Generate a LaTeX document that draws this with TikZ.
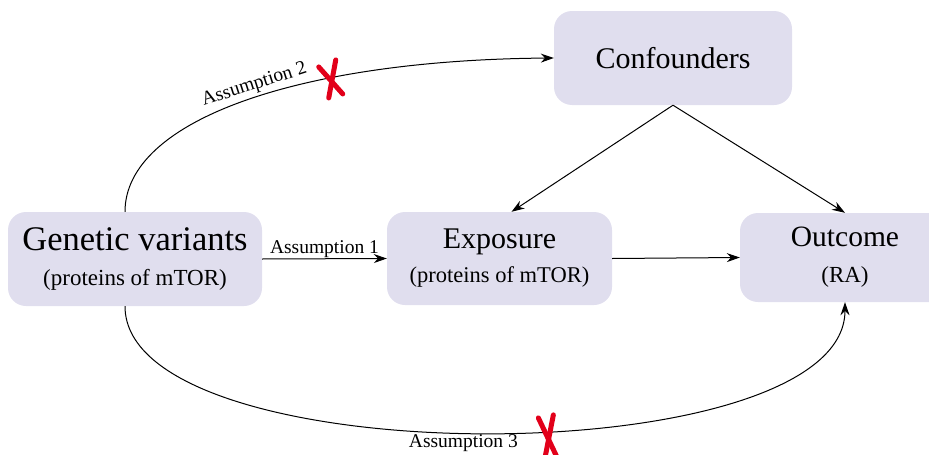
\documentclass[tikz,border=0pt]{standalone}
\usepackage{fontspec}
\setmainfont{Liberation Serif}
\usetikzlibrary{arrows.meta}
\definecolor{boxfill}{RGB}{224,222,238}
\definecolor{crossred}{RGB}{226,0,26}
\tikzset{
  factor/.style={fill=boxfill, rounded corners=18pt, align=center, inner sep=0pt},
  link/.style={-{Stealth[length=13pt,width=9pt]}, line width=1pt},
  cross/.style={crossred, line width=5pt, line cap=round},
  label/.style={font=\fontsize{19.5}{21}\selectfont, inner sep=1pt},
}

\begin{document}
\begin{tikzpicture}[x=1pt,y=-1pt]
    \useasboundingbox (0,0) rectangle (929,455);

    \node[factor, minimum width=238pt, minimum height=94pt, font=\fontsize{30}{32}\selectfont] (conf) at (673,58) {Confounders};
    \node[factor, minimum width=254pt, minimum height=94pt, font=\fontsize{23}{35}\selectfont] (gene) at (135,259)
        {{\fontsize{34.5}{35}\selectfont Genetic variants}\\(proteins of mTOR)};
    \node[factor, minimum width=225pt, minimum height=93pt, font=\fontsize{22.5}{34}\selectfont] (expo) at (499.5,258.5)
        {{\fontsize{30}{34}\selectfont Exposure}\\(proteins of mTOR)};
    \node[factor, minimum width=210pt, minimum height=89pt, font=\fontsize{23}{36}\selectfont] (outc) at (845,257.5)
        {{\fontsize{29.5}{36}\selectfont Outcome}\\(RA)};

    \draw[link] (gene.east) -- node[label, midway, above] {Assumption 1} (expo.west);
    \draw[link] (expo.east) -- (outc.west);
    \draw[link] (conf.south) -- ([xshift=12pt]expo.north);
    \draw[link] (conf.south) -- (outc.north);

    \draw[link] ([xshift=-10pt]gene.north) .. controls +(0,-92) and (300,60) .. (conf.west)
        node[label, pos=0.53, above=2pt, sloped] {Assumption 2}
        coordinate[pos=0.67] (cut2);
    \draw[link] ([xshift=-10pt]gene.south) .. controls +(0,170) and +(0,173) .. (outc.south)
        node[label, pos=0.48, below] {Assumption 3}
        coordinate[pos=0.558] (cut3);

    \draw[cross] ([shift={(-13,-11)}]cut2) -- ([shift={(11,16)}]cut2);
    \draw[cross] ([shift={(4,-18)}]cut2) -- ([shift={(-3,20)}]cut2);
    \draw[cross] ([shift={(-9,-13)}]cut3) -- ([shift={(9,25)}]cut3);
    \draw[cross] ([shift={(6,-16)}]cut3) -- ([shift={(-2,25)}]cut3);
\end{tikzpicture}
\end{document}
